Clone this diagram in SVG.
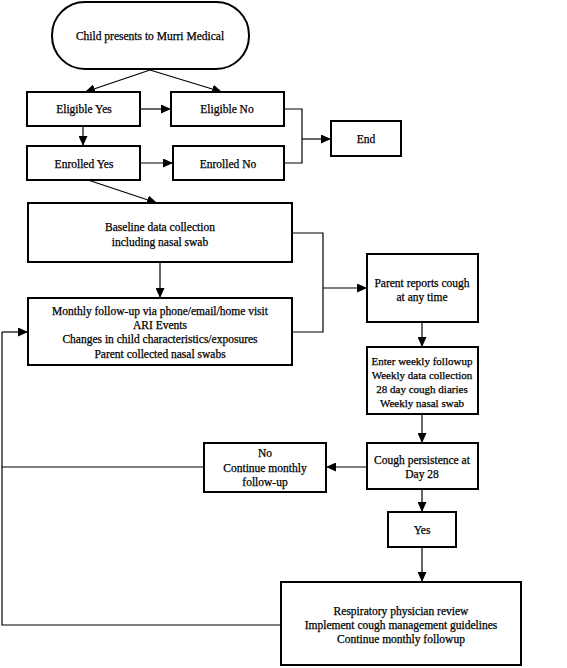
<svg xmlns="http://www.w3.org/2000/svg" width="567" height="668" viewBox="0 0 567 668">
<defs>
<marker id="ah" markerWidth="10" markerHeight="9" refX="10" refY="4.5" orient="auto" markerUnits="userSpaceOnUse">
<path d="M0,0 L10,4.5 L0,9 Z" fill="#000"/>
</marker>
<style>
.box{fill:#fff;stroke:#000;stroke-width:2}
.c{fill:none;stroke:#000;stroke-width:1.2}
.a{marker-end:url(#ah)}
text{font-family:"Liberation Serif","Times New Roman",serif;font-size:11.5px;text-anchor:middle;fill:#000;stroke:#000;stroke-width:0.25}
.s{font-size:11px}
</style>
</defs>
<rect width="567" height="668" fill="#fff"/>
<g id="connectors">
<path class="c a" d="M150,70 L85,92"/>
<path class="c a" d="M150,70 L222,92"/>
<path class="c a" d="M140,109 L171,109"/>
<path class="c a" d="M83,126 L83,146"/>
<path class="c a" d="M140,163 L173,163"/>
<path class="c" d="M284,109 L302,109 L302,163 L284,163"/>
<path class="c a" d="M302,139 L331,139"/>
<path class="c a" d="M88,180 L157,203"/>
<path class="c a" d="M160,262 L160,298"/>
<path class="c" d="M292,233 L323,233 L323,332 L292,332"/>
<path class="c a" d="M323,288 L367,288"/>
<path class="c a" d="M422,322 L422,347"/>
<path class="c a" d="M422,414 L422,443"/>
<path class="c a" d="M367,467 L326,467"/>
<path class="c" d="M204,467 L2,467"/>
<path class="c" d="M281,625 L2,625 L2,332"/>
<path class="c a" d="M2,332 L28,332"/>
<path class="c a" d="M422,489 L422,512"/>
<path class="c a" d="M422,547 L422,582"/>
</g>
<g id="start">
<rect class="box" x="52" y="2" width="197" height="67" rx="33" ry="33"/>
<text x="150" y="40">Child presents to Murri Medical</text>
</g>
<g id="eligible-yes">
<rect class="box" x="27" y="92" width="113" height="34"/>
<text x="84" y="113">Eligible Yes</text>
</g>
<g id="eligible-no">
<rect class="box" x="171" y="92" width="113" height="34"/>
<text x="227" y="113">Eligible No</text>
</g>
<g id="enrolled-yes">
<rect class="box" x="27" y="146" width="113" height="34"/>
<text x="84" y="168">Enrolled Yes</text>
</g>
<g id="enrolled-no">
<rect class="box" x="173" y="146" width="111" height="34"/>
<text x="228" y="168">Enrolled No</text>
</g>
<g id="end">
<rect class="box" x="331" y="121" width="70" height="35"/>
<text x="366" y="143">End</text>
</g>
<g id="baseline">
<rect class="box" x="28" y="203" width="264" height="59"/>
<text x="160" y="231">Baseline data collection</text>
<text x="160" y="246">including nasal swab</text>
</g>
<g id="monthly">
<rect class="box" x="28" y="298" width="264" height="67"/>
<text x="160" y="315">Monthly follow-up via phone/email/home visit</text>
<text x="160" y="329">ARI Events</text>
<text x="160" y="343">Changes in child characteristics/exposures</text>
<text x="160" y="358">Parent collected nasal swabs</text>
</g>
<g id="parent-reports">
<rect class="box" x="367" y="254" width="111" height="68"/>
<text x="422" y="287">Parent reports cough</text>
<text x="422" y="301">at any time</text>
</g>
<g id="weekly">
<rect class="box" x="367" y="347" width="111" height="67"/>
<text class="s" x="422" y="365">Enter weekly followup</text>
<text class="s" x="422" y="379">Weekly data collection</text>
<text class="s" x="422" y="393">28 day cough diaries</text>
<text class="s" x="422" y="407">Weekly nasal swab</text>
</g>
<g id="cough-persistence">
<rect class="box" x="367" y="443" width="111" height="46"/>
<text x="422" y="464">Cough persistence at</text>
<text x="422" y="478">Day 28</text>
</g>
<g id="no-continue">
<rect class="box" x="204" y="443" width="122" height="49"/>
<text x="265" y="457">No</text>
<text x="265" y="472">Continue monthly</text>
<text x="265" y="486">follow-up</text>
</g>
<g id="yes">
<rect class="box" x="388" y="512" width="68" height="35"/>
<text x="422" y="534">Yes</text>
</g>
<g id="respiratory">
<rect class="box" x="281" y="582" width="240" height="83"/>
<text x="401" y="615">Respiratory physician review</text>
<text x="401" y="629">Implement cough management guidelines</text>
<text x="401" y="643">Continue monthly followup</text>
</g>
</svg>
